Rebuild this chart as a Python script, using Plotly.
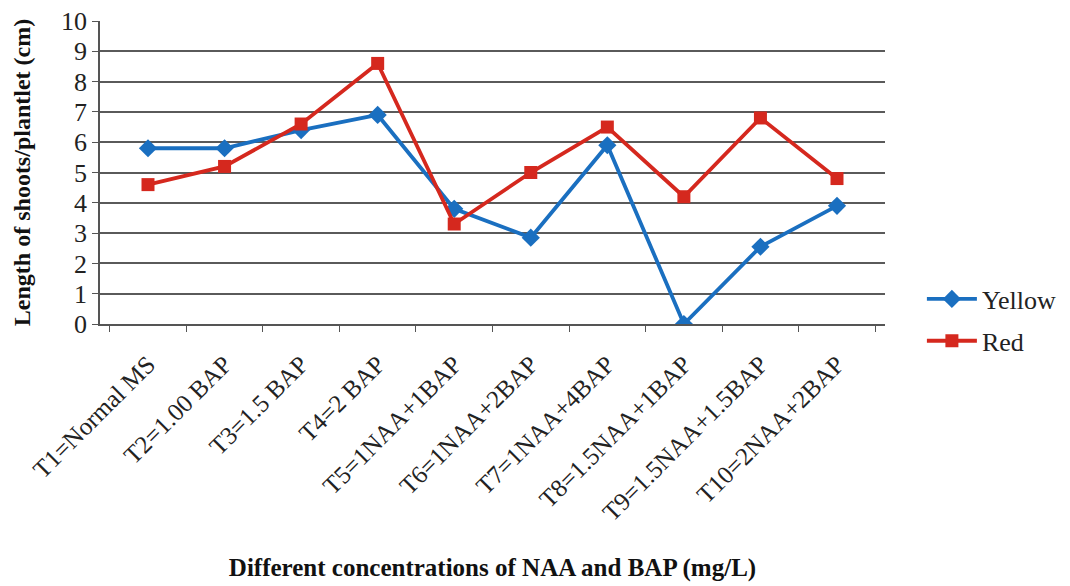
import plotly.graph_objects as go

categories = ["T1=Normal MS", "T2=1.00 BAP", "T3=1.5 BAP", "T4=2 BAP", "T5=1NAA+1BAP",
              "T6=1NAA+2BAP", "T7=1NAA+4BAP", "T8=1.5NAA+1BAP", "T9=1.5NAA+1.5BAP", "T10=2NAA+2BAP"]
yellow = [5.8, 5.8, 6.4, 6.9, 3.8, 2.85, 5.9, 0.0, 2.55, 3.9]
red = [4.6, 5.2, 6.6, 8.6, 3.3, 5.0, 6.5, 4.2, 6.8, 4.8]
y_ticks = list(range(0, 11))

font_family = "Liberation Serif"

fig = go.Figure()
fig.add_trace(go.Scatter(x=categories, y=yellow, name="Yellow", mode="lines+markers",
                         legendgroup="a",
                         line=dict(color="#1a6fc0", width=3.8),
                         marker=dict(symbol="diamond", size=14, color="#1a6fc0")))
fig.add_trace(go.Scatter(x=categories, y=red, name="Red", mode="lines+markers",
                         legendgroup="b",
                         line=dict(color="#d5281e", width=3.8),
                         marker=dict(symbol="square", size=13, color="#d5281e")))

fig.update_layout(
    width=1070, height=586,
    margin=dict(l=100, r=185, t=21, b=262, autoexpand=False),
    paper_bgcolor="white", plot_bgcolor="white",
    font=dict(family=font_family, color="#222", size=25),
    showlegend=True,
    legend=dict(x=1.047, y=0.013, xanchor="left", yanchor="middle",
                traceorder="grouped", tracegroupgap=5,
                font=dict(size=26, family=font_family, color="#222"),
                itemwidth=50),
    xaxis=dict(type="category", tickangle=-45, tickson="boundaries",
               ticks="outside", ticklen=6, tickcolor="#555",
               ticklabelstandoff=14,
               showline=True, linecolor="#555", linewidth=1.5,
               showgrid=False, automargin=False,
               tickfont=dict(size=25, family=font_family, color="#222"),
               title=dict(text="<b>Different concentrations of NAA and BAP (mg/L)</b>",
                          font=dict(size=25, family=font_family, color="#111"),
                          standoff=33)),
    yaxis=dict(range=[0, 10], tickvals=y_ticks, ticks="outside", ticklen=6, tickcolor="#555",
               showline=True, linecolor="#555", linewidth=1.5,
               showgrid=True, gridcolor="#5a5a5a", gridwidth=1.5,
               zeroline=False, automargin=False,
               tickfont=dict(size=26, family=font_family, color="#222"),
               title=dict(text="<b>Length of shoots/plantlet (cm)</b>",
                          font=dict(size=24, family=font_family, color="#111"),
                          standoff=24)),
)

fig.write_html("out.html")
